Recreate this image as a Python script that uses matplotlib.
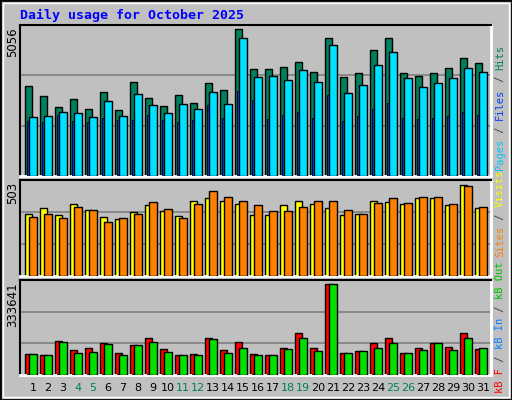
import matplotlib
matplotlib.use("Agg")
import matplotlib.pyplot as plt
import numpy as np

days = list(range(1, 32))
weekends = [4, 5, 11, 12, 18, 19, 25, 26]

hits = [3096, 2752, 2374, 2649, 2305, 2890, 2270, 3234, 2683, 2408, 2786, 2511, 3199, 2958, 5056, 3680,
        3680, 3750, 3921, 3578, 4747, 3406, 3543, 4334, 4747, 3543, 3440, 3543, 3715, 4059, 3887]
files = [2030, 2064, 2202, 2167, 2030, 2580, 2064, 2821, 2442, 2167, 2477, 2305, 2890, 2477, 4747, 3406,
         3440, 3302, 3646, 3234, 4506, 2855, 3130, 3818, 4266, 3371, 3061, 3199, 3371, 3715, 3578]
pages = [1892, 1858, 2098, 1892, 1858, 1995, 1926, 1926, 2098, 1926, 1858, 1926, 2442, 1995, 2924, 2614,
         1960, 2100, 2200, 2000, 2800, 1900, 2050, 2300, 2500, 2000, 1950, 2000, 2050, 2200, 2100]
visits = [343, 376, 337, 398, 365, 326, 315, 354, 393, 359, 332, 415, 431, 415, 398, 337,
          337, 393, 415, 398, 376, 337, 343, 415, 409, 398, 431, 431, 393, 503, 376]
sites = [326, 343, 321, 382, 365, 299, 321, 343, 409, 371, 321, 398, 470, 437, 415, 393,
         359, 359, 382, 415, 415, 365, 343, 404, 431, 404, 437, 437, 398, 498, 382]
kb_f = [77000, 73300, 124600, 91600, 99000, 117300, 80600, 110000, 135600, 95300, 73300, 77000, 135600,
        91600, 121000, 77000, 73300, 99000, 154000, 99000, 333641, 80600, 88000, 117300, 135600, 80600,
        99000, 117300, 102600, 154000, 95300]
kb_out = [77000, 73300, 121000, 80600, 84300, 113600, 73300, 110000, 121000, 84300, 73300, 73300, 132000,
          80600, 99000, 73300, 73300, 95300, 135600, 88000, 333641, 80600, 88000, 99000, 117300, 80600,
          91600, 117300, 91600, 135600, 99000]
kb_in = [3000] * 31

W, H = 512, 400
BG = "#C0C0C0"
fig = plt.figure(figsize=(W / 100, H / 100), dpi=100, facecolor=BG)

# outer border
fig.patches.append(plt.Rectangle((0, 0), 1, 1, transform=fig.transFigure, fill=False,
                                 edgecolor="black", lw=2))
fig.patches.append(plt.Rectangle((3 / W, 3 / H), 1 - 6 / W, 1 - 6 / H, transform=fig.transFigure,
                                 fill=False, edgecolor="white", lw=1))

X0, X1 = 20, 491
slot = 15.0


def make_ax(top, base):
    ax = fig.add_axes([X0 / W, 1 - base / H, (X1 - X0) / W, (base - top) / H], facecolor=BG)
    ax.set_xlim(0, (X1 - X0) / slot)
    ax.set_xticks([])
    ax.set_yticks([])
    for s in ["top", "left"]:
        ax.spines[s].set_color("black")
        ax.spines[s].set_linewidth(1.5)
    for s in ["bottom", "right"]:
        ax.spines[s].set_color("white")
        ax.spines[s].set_linewidth(2)
    return ax


def pair(ax, back, front, cback, cfront, thin=None, cthin=None):
    x = np.arange(31)
    ax.bar(x + 5 / slot, back, width=7 / slot, align="edge", color=cback, edgecolor="black", lw=1, zorder=2)
    if thin is not None:
        ax.bar(x + 7 / slot, thin, width=2.5 / slot, align="edge", color=cthin, edgecolor="black", lw=0.6, zorder=3)
    ax.bar(x + 9 / slot, front, width=7.5 / slot, align="edge", color=cfront, edgecolor="black", lw=1, zorder=4)


def grid(ax, top):
    for f in (1 / 3, 2 / 3):
        ax.axhline(top * f, color="#808080", lw=1.2, zorder=0)


ax1 = make_ax(25, 176)
top1 = 151 * 5056 / 147
ax1.set_ylim(0, top1)
grid(ax1, top1)
pair(ax1, hits, files, "#00805C", "#00E0FF", pages, "#0040FF")

ax2 = make_ax(180, 276)
top2 = 96 * 503 / 91
ax2.set_ylim(0, top2)
grid(ax2, top2)
pair(ax2, visits, sites, "#FFFF00", "#FF8000")

ax3 = make_ax(280, 375)
top3 = 95 * 333641 / 91
ax3.set_ylim(0, top3)
grid(ax3, top3)
pair(ax3, kb_f, kb_out, "#FF0000", "#00E000", kb_in, "#0080FF")

fig.text(20 / W, 1 - 15 / H, "Daily usage for October 2025", color="#0000FF", family="DejaVu Sans Mono",
         weight="bold", fontsize=9.5, va="center", ha="left")

for ytop, lab in [(27, "5056"), (182, "503"), (282, "333641")]:
    fig.text(13 / W, 1 - ytop / H, lab, rotation=90, ha="center", va="top", fontsize=8.5, color="black")


# right side labels, bottom to top
def side(ybottom, parts):
    y = ybottom
    cw = 0.602 * 7.5 * 100 / 72
    for txt, col in parts:
        fig.text(500 / W, 1 - y / H, txt, rotation=90, ha="center", va="bottom", fontsize=7.5,
                 family="DejaVu Sans Mono", color=col)
        y -= cw * len(txt)


side(170, [("Pages", "#00C8FF"), (" / ", "#404040"), ("Files", "#0040FF"), (" / ", "#404040"),
           ("Hits", "#00805C")])
side(257, [("Sites", "#FF8000"), (" / ", "#404040"), ("Visits", "#FFFF00")])
side(393, [("kB F", "#FF0000"), (" / ", "#404040"), ("kB In", "#0080FF"), (" / ", "#404040"),
           ("kB Out", "#00C000")])

for d in days:
    col = "#00805C" if d in weekends else "black"
    fig.text((X0 + (d - 1) * slot + 13) / W, 1 - 388 / H, str(d), ha="center", va="center",
             fontsize=8, color=col)

fig.savefig("out.png", dpi=100, facecolor=BG)
